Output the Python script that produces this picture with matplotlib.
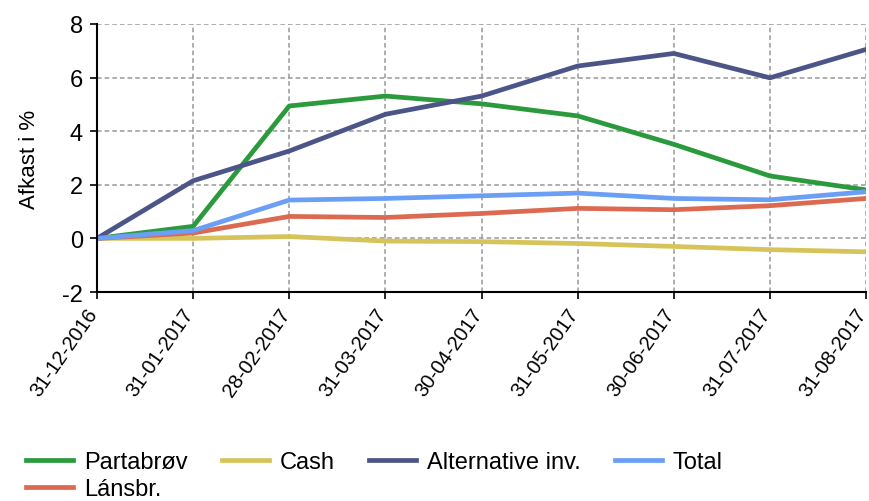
import matplotlib.pyplot as plt
from matplotlib.transforms import ScaledTranslation

plt.rcParams['font.family'] = ['Liberation Sans', 'DejaVu Sans']
plt.rcParams['axes.unicode_minus'] = False

dates = ['31-12-2016', '31-01-2017', '28-02-2017', '31-03-2017', '30-04-2017',
         '31-05-2017', '30-06-2017', '31-07-2017', '31-08-2017']

partabrov = [0.0, 0.45, 4.94, 5.31, 5.02, 4.57, 3.51, 2.33, 1.81]
cash = [0.0, 0.0, 0.07, -0.1, -0.12, -0.19, -0.3, -0.42, -0.5]
alternative = [0.0, 2.15, 3.26, 4.63, 5.31, 6.43, 6.9, 5.99, 7.05]
total = [0.0, 0.29, 1.43, 1.49, 1.59, 1.69, 1.49, 1.44, 1.74]
lansbr = [0.0, 0.2, 0.82, 0.78, 0.93, 1.12, 1.07, 1.22, 1.49]

fig = plt.figure(figsize=(8.7, 5.02), dpi=100)
ax = fig.add_axes([0.1115, 0.4163, 0.884, 0.534])

x = range(len(dates))
lw = 3.4
l_part, = ax.plot(x, partabrov, color='#2b9a3c', lw=lw, label='Partabrøv')
l_cash, = ax.plot(x, cash, color='#d6c45a', lw=lw, label='Cash')
l_alt, = ax.plot(x, alternative, color='#4b5587', lw=lw, label='Alternative inv.')
l_lans, = ax.plot(x, lansbr, color='#db6a50', lw=lw, label='Lánsbr.')
l_tot, = ax.plot(x, total, color='#6a9ff5', lw=lw, label='Total')

ax.set_xlim(0, len(dates) - 1)
ax.set_ylim(-2, 8)
ax.set_yticks([-2, 0, 2, 4, 6, 8])
ax.set_xticks(list(x))
ax.set_xticklabels(dates, rotation=55, ha='right', rotation_mode='anchor')
ax.tick_params(axis='y', labelsize=17, length=5, width=1.2, direction='out', pad=5)
ax.tick_params(axis='x', labelsize=14.5, length=5, width=1.2, direction='out', pad=4)
ax.set_ylabel('Afkast i %', fontsize=16, labelpad=16)

# nudge the rotated date labels a little left so the last one fits
shift = ScaledTranslation(-8 / 72, 0, fig.dpi_scale_trans)
for lab in ax.get_xticklabels():
    lab.set_transform(lab.get_transform() + shift)

ax.grid(True, color='#999999', linestyle=(0, (3, 2)), linewidth=1.1)
for s in ['top', 'right']:
    ax.spines[s].set_visible(False)
for s in ['left', 'bottom']:
    ax.spines[s].set_linewidth(1.5)

# row-major order: Partabrøv + Lánsbr. share the first column
handles = [l_part, l_lans, l_cash, l_alt, l_tot]
fig.legend(handles=handles, labels=[h.get_label() for h in handles], ncol=4,
           loc='upper left', bbox_to_anchor=(0.019, 0.118), frameon=False,
           fontsize=17, handlelength=2.0, handletextpad=0.45, columnspacing=1.45,
           labelspacing=0.22, borderaxespad=0)

fig.savefig('out.png', dpi=100)
